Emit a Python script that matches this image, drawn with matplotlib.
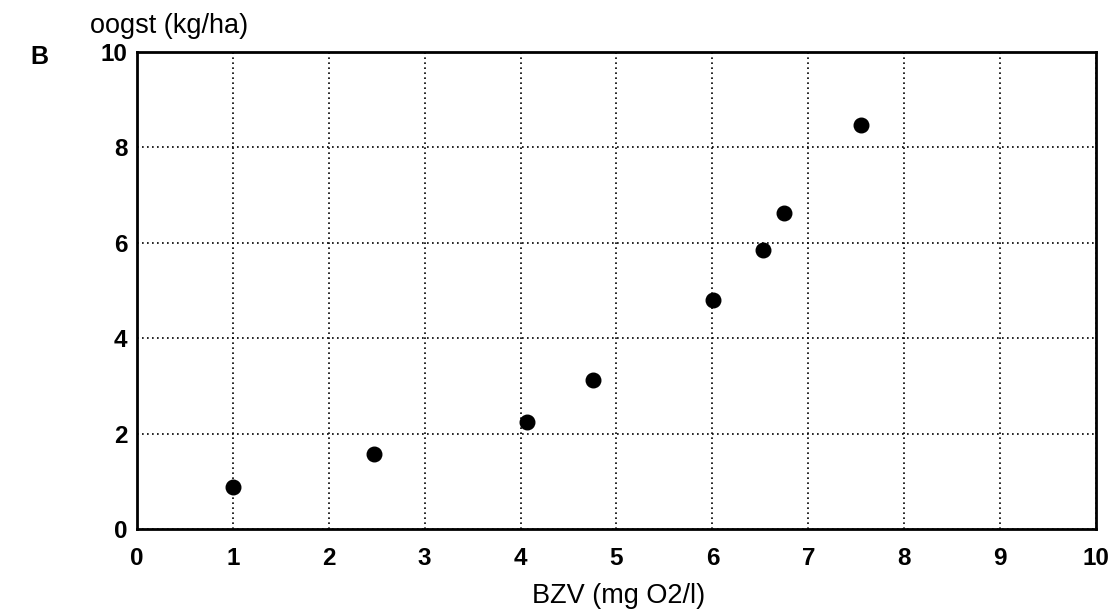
import matplotlib
matplotlib.use("Agg")
import matplotlib.pyplot as plt

bzv = [1.00, 2.47, 4.07, 4.75, 6.01, 6.53, 6.75, 7.55]
oogst = [0.88, 1.57, 2.24, 3.12, 4.81, 5.85, 6.63, 8.47]
xticks = list(range(0, 11))
yticks = [0, 2, 4, 6, 8, 10]

plt.rcParams['font.family'] = ['Liberation Sans', 'DejaVu Sans']

fig = plt.figure(figsize=(11.12, 6.10), dpi=100)
ax = fig.add_axes([0.1232, 0.1328, 0.8624, 0.782])
ax.scatter(bzv, oogst, s=110, color='black', zorder=3)
ax.set_xlim(0, 10)
ax.set_ylim(0, 10)
ax.set_xticks(xticks)
ax.set_yticks(yticks)
ax.set_xticklabels([str(t) for t in xticks], fontsize=17.5, fontweight='bold')
ax.set_yticklabels([str(t) for t in yticks], fontsize=17.5, fontweight='bold')
ax.tick_params(axis='x', length=0, pad=13)
ax.tick_params(axis='y', length=0, pad=7)
ax.grid(True, color='black', linestyle=(0, (1, 2)), linewidth=1.2)
for s in ax.spines.values():
    s.set_linewidth(2)
    s.set_color('black')
fig.text(0.556, 1 - 603/610, 'BZV (mg O2/l)', fontsize=19.5, va='baseline', ha='center')
fig.text(90/1112, 1 - 33/610, 'oogst (kg/ha)', fontsize=19.5, va='baseline', ha='left')
fig.text(30/1112, 1 - 64/610, 'B', fontsize=18, fontweight='bold', va='baseline', ha='left')
fig.savefig('out.png', dpi=100)
